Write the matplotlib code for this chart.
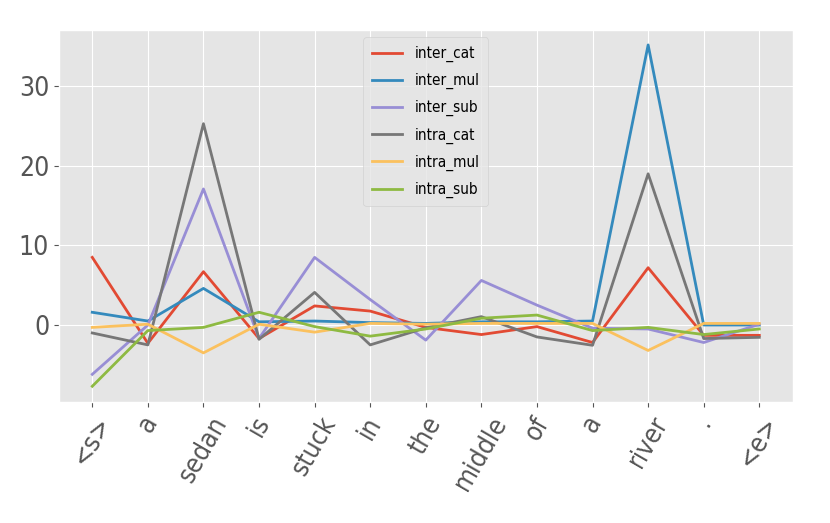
import matplotlib
matplotlib.use('Agg')
import matplotlib.pyplot as plt
import numpy as np

words = ['<s>', 'a', 'sedan', 'is', 'stuck', 'in', 'the', 'middle', 'of', 'a', 'river', '.', '<e>']

inter_cat = [8.5, -2.3, 6.7, -1.7, 2.4, 1.75, -0.3, -1.2, -0.2, -2.2, 7.2, -1.3, -1.3]
inter_mul = [1.6, 0.5, 4.6, 0.4, 0.5, 0.3, 0.2, 0.4, 0.4, 0.5, 35.2, 0.0, 0.0]
inter_sub = [-6.2, 0.0, 17.1, -1.7, 8.5, 3.2, -1.9, 5.6, 2.5, -0.4, -0.5, -2.2, 0.1]
intra_cat = [-1.0, -2.5, 25.3, -1.8, 4.1, -2.5, -0.35, 1.05, -1.5, -2.55, 19.0, -1.7, -1.55]
intra_mul = [-0.3, 0.1, -3.5, 0.1, -0.9, 0.2, 0.1, 0.2, 0.2, 0.2, -3.2, 0.2, 0.2]
intra_sub = [-7.7, -0.7, -0.3, 1.6, -0.2, -1.4, -0.5, 0.85, 1.25, -0.7, -0.3, -1.2, -0.5]

series = [('inter_cat', inter_cat), ('inter_mul', inter_mul), ('inter_sub', inter_sub),
          ('intra_cat', intra_cat), ('intra_mul', intra_mul), ('intra_sub', intra_sub)]

plt.style.use('ggplot')
plt.rcParams['font.family'] = ['DejaVu Sans']
plt.rcParams['font.stretch'] = 'condensed'

fig = plt.figure(figsize=(8.3, 5.23), dpi=100)
ax = fig.add_axes([0.071, 0.231, 0.884, 0.712])
x = np.arange(len(words))
for name, vals in series:
    ax.plot(x, vals, label=name, linewidth=2)

ax.set_xticks(x)
ax.set_xticklabels(words, rotation=60, fontsize=19)
ax.tick_params(axis='y', labelsize=19)
ax.set_yticks([0, 10, 20, 30])
ax.set_ylim(-9.7, 37.1)
ax.legend(loc='upper center', fontsize=11, labelspacing=0.72, borderpad=0.55)

fig.savefig('out.png', dpi=100)
